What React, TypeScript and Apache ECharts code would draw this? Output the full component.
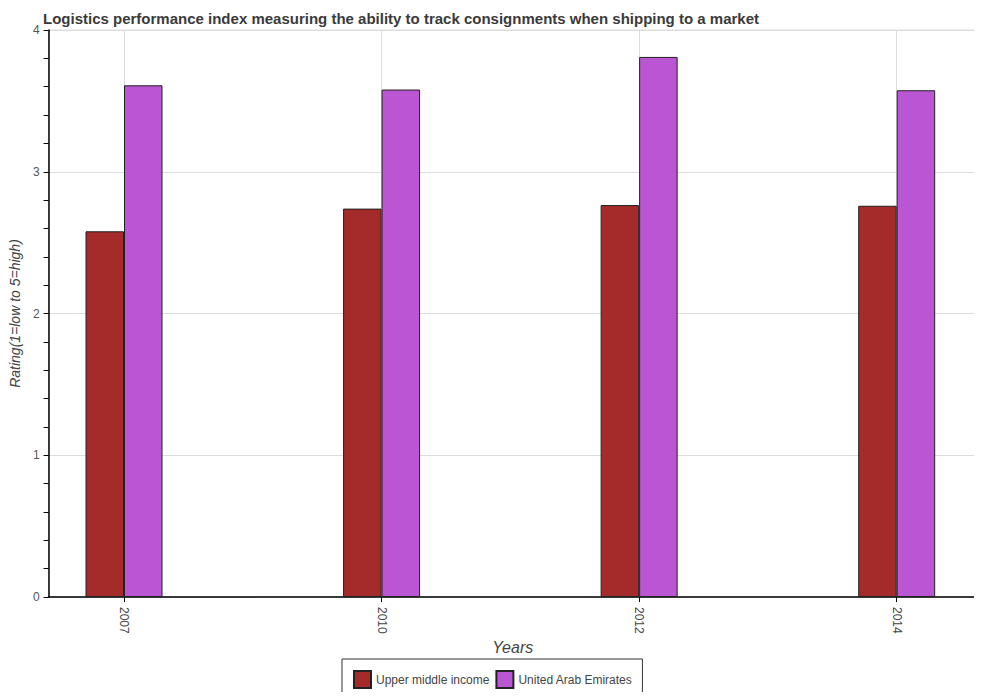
import React, { useEffect, useRef } from "react";
import * as echarts from "echarts";

const years = ["2007", "2010", "2012", "2014"];
const upperMiddleIncome = [2.58, 2.74, 2.765, 2.76];
const uae = [3.61, 3.58, 3.81, 3.575];
const yTicks = [0, 1, 2, 3, 4];

export default function App() {
  const ref = useRef<HTMLDivElement>(null);
  useEffect(() => {
    if (!ref.current) return;
    const chart = echarts.init(ref.current, undefined, { renderer: "svg" });
    const font = "Liberation Sans, Arial, sans-serif";
    const left = 43;
    const right = 977;
    const top = 30;
    const bottom = 597;
    const c0 = 124;
    const c3 = 896.7;
    chart.setOption({
      animation: false,
      backgroundColor: "#ffffff",
      textStyle: { fontFamily: font },
      title: {
        text: "Logistics performance index measuring the ability to track consignments when shipping to a market",
        left: left,
        top: 11,
        padding: 0,
        textStyle: { fontFamily: font, fontSize: 15, fontWeight: "bold", color: "#3a3a3a" },
      },
      grid: [
        {
          left: left,
          top: top,
          width: right - left,
          height: bottom - top,
          show: true,
          borderColor: "#dddddd",
          borderWidth: 1,
          backgroundColor: "transparent",
        },
        {
          left: c0,
          top: top,
          width: c3 - c0,
          height: bottom - top,
        },
      ],
      xAxis: [
        {
          gridIndex: 0,
          type: "value",
          min: 0,
          max: 1,
          axisLine: { show: true, lineStyle: { color: "#000", width: 1.5 } },
          axisTick: { show: false },
          axisLabel: { show: false },
          splitLine: { show: false },
          name: "Years",
          nameLocation: "middle",
          nameGap: 42,
          nameTextStyle: { fontFamily: font, fontSize: 16, fontStyle: "italic", color: "#444" },
        },
        {
          gridIndex: 1,
          type: "value",
          min: 0,
          max: years.length - 1,
          interval: 1,
          axisLine: { show: false },
          axisTick: { show: true, length: 5, lineStyle: { color: "#000" } },
          axisLabel: {
            rotate: -90,
            margin: 10,
            fontSize: 12,
            color: "#444",
            fontFamily: font,
            formatter: (v: number) => years[Math.round(v)] ?? "",
          },
          splitLine: { show: true, lineStyle: { color: "#dddddd", width: 1 } },
        },
      ],
      yAxis: [
        {
          gridIndex: 0,
          type: "value",
          position: "left",
          offset: 0,
          min: 0,
          max: 4,
          interval: 1,
          axisLine: { show: true, lineStyle: { color: "#000", width: 1.5 } },
          axisTick: { show: false },
          axisLabel: {
            fontSize: 12,
            color: "#555",
            margin: 9,
            fontFamily: font,
            formatter: (v: number) => (yTicks.includes(v) ? String(v) : ""),
          },
          splitLine: { show: true, lineStyle: { color: "#dddddd", width: 1 } },
          name: "Rating(1=low to 5=high)",
          nameLocation: "middle",
          nameGap: 20,
          nameTextStyle: { fontFamily: font, fontSize: 14, fontStyle: "italic", color: "#444" },
        },
        {
          gridIndex: 1,
          type: "value",
          min: 0,
          max: 4,
          show: false,
          splitLine: { show: false },
        },
        {
          gridIndex: 0,
          type: "value",
          position: "left",
          offset: 0,
          min: 0,
          max: 4,
          interval: 0.2,
          axisLine: { show: false },
          axisTick: { show: true, length: 5, lineStyle: { color: "#000", width: 1 } },
          axisLabel: { show: false },
          splitLine: { show: false },
        },
      ],
      legend: {
        left: 342,
        top: 659,
        orient: "horizontal",
        borderColor: "#333",
        borderWidth: 1,
        padding: [11, 10, 11, 11],
        itemWidth: 17,
        itemHeight: 17,
        itemGap: 6,
        icon: "rect",
        textStyle: { fontFamily: font, fontSize: 12, color: "#444" },
        data: ["Upper middle income", "United Arab Emirates"],
      },
      series: [
        {
          name: "Upper middle income",
          type: "bar",
          xAxisIndex: 1,
          yAxisIndex: 1,
          clip: false,
          barWidth: 38.5,
          barGap: "0%",
          data: upperMiddleIncome.map((v, i) => [i, v]),
          itemStyle: { color: "#a52a2a", borderColor: "#222", borderWidth: 1 },
        },
        {
          name: "United Arab Emirates",
          type: "bar",
          xAxisIndex: 1,
          yAxisIndex: 1,
          clip: false,
          barWidth: 38.5,
          barGap: "0%",
          data: uae.map((v, i) => [i, v]),
          itemStyle: { color: "#ba55d3", borderColor: "#222", borderWidth: 1 },
        },
      ],
    });
    return () => chart.dispose();
  }, []);
  return <div ref={ref} style={{ width: 982, height: 700, margin: -8 }} />;
}
